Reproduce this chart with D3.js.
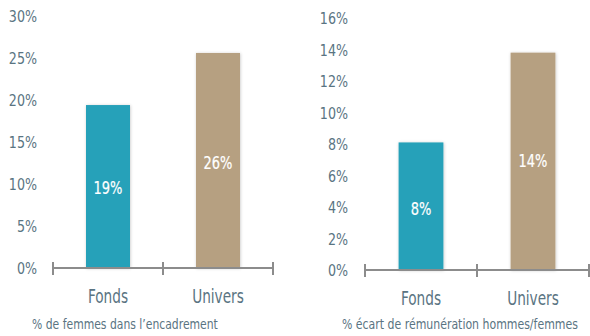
<!DOCTYPE html>
<html>
<head>
<meta charset="utf-8">
<script src="https://cdn.jsdelivr.net/npm/d3@7"></script>
<style>
  html, body { margin: 0; padding: 0; background: #fff; }
  svg { display: block; }
  text { font-family: "DejaVu Sans Condensed", "Roboto", sans-serif; }
</style>
</head>
<body>
<svg id="chart" width="590" height="336"></svg>
<script>
// Data
const categories = ["Fonds", "Univers"];
const womenShare = [19.4, 25.6];          // % de femmes dans l'encadrement
const payGap = [8.1, 13.8];               // % écart de rémunération
const womenTicks = [0, 5, 10, 15, 20, 25, 30];
const payTicks = [0, 2, 4, 6, 8, 10, 12, 14, 16];
const titles = ["% de femmes dans l’encadrement", "% écart de rémunération hommes/femmes"];
const barColors = ["#27a1b9", "#b6a081"];

const svg = d3.select("#chart");
const textColor = "#5a7482";
const axisColor = "#8c8c8c";

// narrow the glyphs of a text selection by a factor
function condense(sel, k) {
  sel.each(function () {
    const w = this.getComputedTextLength();
    d3.select(this).attr("textLength", w * k).attr("lengthAdjust", "spacingAndGlyphs");
  });
}

const defs = svg.append("defs");
const f = defs.append("filter").attr("id", "shadow")
  .attr("x", "-20%").attr("y", "-20%").attr("width", "140%").attr("height", "140%");
f.append("feDropShadow").attr("dx", 0.5).attr("dy", 0.5)
  .attr("stdDeviation", 1.5).attr("flood-color", "#000").attr("flood-opacity", 0.22);

function panel(cfg) {
  const y = d3.scaleLinear().domain([0, cfg.max]).range([cfg.y0, cfg.y0 - 252]);
  const x = d3.scaleBand().domain(categories).range(cfg.xRange).padding(0);
  const g = svg.append("g");

  // y axis labels
  const ya = g.append("g")
    .attr("transform", `translate(${cfg.labelX},0)`)
    .call(d3.axisLeft(y).tickValues(cfg.ticks).tickSize(0).tickPadding(0)
      .tickFormat(d => d + "%"));
  ya.select(".domain").remove();
  ya.selectAll("text")
    .attr("fill", textColor)
    .attr("font-size", 16)
    .attr("dy", "0.36em")
    .call(condense, 0.88);

  // bars
  const bw = x.bandwidth() * 0.4;
  g.selectAll("rect.bar").data(cfg.values).enter().append("rect")
    .attr("class", "bar")
    .attr("x", (d, i) => x(categories[i]) + x.bandwidth() / 2 - bw / 2)
    .attr("y", d => y(d))
    .attr("width", bw)
    .attr("height", d => y(0) - y(d))
    .attr("fill", (d, i) => barColors[i])
    .attr("filter", "url(#shadow)");

  // value labels
  g.selectAll("text.val").data(cfg.values).enter().append("text")
    .attr("class", "val")
    .attr("x", (d, i) => x(categories[i]) + x.bandwidth() / 2)
    .attr("y", (d, i) => y(cfg.labelAt[i]))
    .attr("dy", "0.36em")
    .attr("text-anchor", "middle")
    .attr("fill", "#fff")
    .attr("font-size", 17)
    .attr("stroke", "#fff").attr("stroke-width", 0.2)
    .text(d => Math.round(d) + "%")
    .call(condense, 0.85);

  // x axis line with ticks at band edges
  const edges = categories.map(c => x(c)).concat([x.range()[1]]);
  g.append("line")
    .attr("x1", x.range()[0]).attr("x2", x.range()[1])
    .attr("y1", y(0)).attr("y2", y(0))
    .attr("stroke", axisColor).attr("stroke-width", 2);
  g.selectAll("line.tick").data(edges).enter().append("line")
    .attr("class", "tick")
    .attr("x1", d => d).attr("x2", d => d)
    .attr("y1", y(0) - 6).attr("y2", y(0) + 7)
    .attr("stroke", axisColor).attr("stroke-width", 2);

  // category labels
  g.selectAll("text.cat").data(categories).enter().append("text")
    .attr("class", "cat")
    .attr("x", d => x(d) + x.bandwidth() / 2)
    .attr("y", y(0) + 35)
    .attr("text-anchor", "middle")
    .attr("fill", textColor)
    .attr("font-size", 19)
    .text(d => d)
    .call(condense, 0.8);

  // footer title, squeezed horizontally to its target width
  const t = g.append("text")
    .attr("fill", textColor)
    .attr("font-size", 14.5)
    .text(cfg.title);
  const k = cfg.titleW / t.node().getComputedTextLength();
  t.attr("transform", `translate(${cfg.titleX},329) scale(${k},1)`);
}

panel({
  values: womenShare, max: 30, ticks: womenTicks, y0: 268,
  xRange: [53, 273], labelX: 37, titleX: 32, titleW: 186, title: titles[0],
  labelAt: [9.5, 12.5]
});
panel({
  values: payGap, max: 16, ticks: payTicks, y0: 270,
  xRange: [365, 589], labelX: 348, titleX: 342, titleW: 236, title: titles[1],
  labelAt: [3.9, 6.9]
});
</script>
</body>
</html>
